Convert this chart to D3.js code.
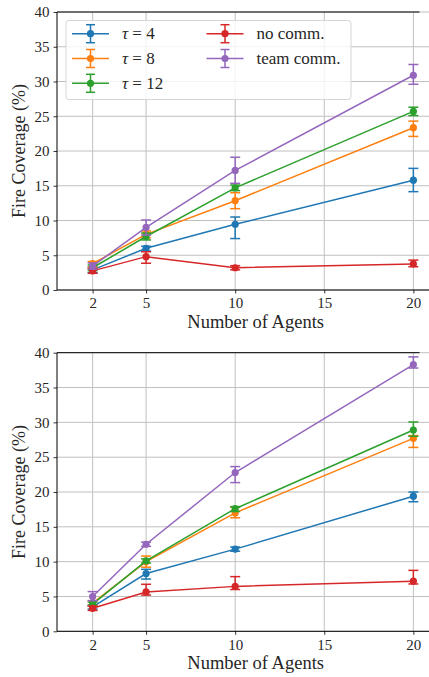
<!DOCTYPE html>
<html>
<head>
<meta charset="utf-8">
<script src="https://cdn.jsdelivr.net/npm/d3@7"></script>
<style>
  html, body { margin: 0; padding: 0; background: #fff; }
</style>
</head>
<body>
<svg id="chart" width="429" height="677"></svg>
<script>
// ---------- data ----------
const agents = [2, 5, 10, 20];
const xTicks = [2, 5, 10, 15, 20];
const yTicks = [0, 5, 10, 15, 20, 25, 30, 35, 40];
const seriesLabels = ["τ = 4", "τ = 8", "τ = 12", "no comm.", "team comm."];
const seriesColors = ["#1f77b4", "#ff7f0e", "#2ca02c", "#d62728", "#9467bd"];

// top panel: mean, lower bound, upper bound
const topTau4     = [2.9, 6.0, 9.45, 15.8];
const topTau4Lo   = [2.5, 5.6, 7.4, 14.15];
const topTau4Hi   = [3.3, 6.3, 10.5, 17.5];
const topTau8     = [3.8, 8.0, 12.85, 23.35];
const topTau8Lo   = [3.3, 7.5, 11.7, 22.1];
const topTau8Hi   = [4.1, 8.5, 14.0, 24.3];
const topTau12    = [3.2, 7.7, 14.7, 25.7];
const topTau12Lo  = [2.8, 7.2, 14.3, 25.1];
const topTau12Hi  = [3.6, 8.2, 15.1, 26.3];
const topNoComm   = [2.75, 4.8, 3.2, 3.75];
const topNoCommLo = [2.4, 3.85, 2.9, 3.35];
const topNoCommHi = [3.1, 5.5, 3.5, 4.3];
const topTeam     = [3.45, 9.0, 17.2, 30.9];
const topTeamLo   = [3.0, 7.9, 15.35, 29.6];
const topTeamHi   = [3.9, 10.07, 19.1, 32.45];

// bottom panel
const botTau4     = [3.5, 8.3, 11.8, 19.4];
const botTau4Lo   = [3.2, 7.5, 11.5, 18.6];
const botTau4Hi   = [3.8, 8.9, 12.1, 20.0];
const botTau8     = [4.05, 10.0, 17.0, 27.7];
const botTau8Lo   = [3.7, 9.2, 16.3, 26.4];
const botTau8Hi   = [4.4, 10.8, 17.8, 28.1];
const botTau12    = [3.9, 10.1, 17.6, 28.9];
const botTau12Lo  = [3.6, 9.8, 17.2, 28.0];
const botTau12Hi  = [4.2, 10.4, 17.9, 30.05];
const botNoComm   = [3.3, 5.65, 6.45, 7.2];
const botNoCommLo = [3.0, 5.2, 6.0, 6.8];
const botNoCommHi = [3.6, 6.75, 7.85, 8.75];
const botTeam     = [5.0, 12.5, 22.8, 38.3];
const botTeamLo   = [4.4, 12.2, 21.35, 37.8];
const botTeamHi   = [5.7, 12.8, 23.65, 39.4];

const topSeries = [
  [topTau4, topTau4Lo, topTau4Hi],
  [topTau8, topTau8Lo, topTau8Hi],
  [topTau12, topTau12Lo, topTau12Hi],
  [topNoComm, topNoCommLo, topNoCommHi],
  [topTeam, topTeamLo, topTeamHi]
];
const botSeries = [
  [botTau4, botTau4Lo, botTau4Hi],
  [botTau8, botTau8Lo, botTau8Hi],
  [botTau12, botTau12Lo, botTau12Hi],
  [botNoComm, botNoCommLo, botNoCommHi],
  [botTeam, botTeamLo, botTeamHi]
];

// ---------- drawing ----------
const FONT = "'Liberation Serif', 'Times New Roman', serif";
const TXT = "#262626";
const svg = d3.select("#chart");
const left = 57, right = 449;
const x = d3.scaleLinear().domain([0, 22]).range([left, right]);

function drawPanel(top, bottom, series, showLegend) {
  const y = d3.scaleLinear().domain([0, 40]).range([bottom, top]);
  const g = svg.append("g");

  // grid
  g.append("g").selectAll("line").data(xTicks).join("line")
    .attr("x1", d => x(d)).attr("x2", d => x(d))
    .attr("y1", top).attr("y2", bottom)
    .attr("stroke", "#c0c0c0").attr("stroke-width", 1);
  g.append("g").selectAll("line").data(yTicks).join("line")
    .attr("x1", left).attr("x2", right)
    .attr("y1", d => y(d)).attr("y2", d => y(d))
    .attr("stroke", "#c0c0c0").attr("stroke-width", 1);

  // axes
  const xAxis = d3.axisBottom(x).tickValues(xTicks).tickSize(3.5).tickPadding(4).tickFormat(d3.format("d"));
  const gx = g.append("g").attr("transform", `translate(0,${bottom})`).call(xAxis);
  const yAxis = d3.axisLeft(y).tickValues(yTicks).tickSize(3.5).tickPadding(4).tickFormat(d3.format("d"));
  const gy = g.append("g").attr("transform", `translate(${left},0)`).call(yAxis);
  [gx, gy].forEach(a => {
    a.attr("font-family", FONT);
    a.select(".domain").remove();
    a.selectAll(".tick line").attr("stroke", "#000").attr("stroke-width", 0.8);
    a.selectAll(".tick text")
      .style("font-family", FONT).style("font-size", "15px").attr("fill", TXT);
  });
  gx.selectAll(".tick text").attr("dy", "0.72em");

  // spines
  g.append("line").attr("x1", left).attr("x2", left).attr("y1", top).attr("y2", bottom)
    .attr("stroke", "#000").attr("stroke-width", 1);
  g.append("line").attr("x1", left).attr("x2", right).attr("y1", bottom).attr("y2", bottom)
    .attr("stroke", "#000").attr("stroke-width", 1);
  g.append("line").attr("x1", left).attr("x2", 419.5).attr("y1", top).attr("y2", top)
    .attr("stroke", "#000").attr("stroke-width", 1);

  // labels
  g.append("text").attr("x", x(11.15)).attr("y", bottom + 38)
    .attr("text-anchor", "middle").attr("fill", TXT)
    .style("font-family", FONT).style("font-size", "18.5px").text("Number of Agents");
  g.append("text")
    .attr("transform", `translate(25,${(top + bottom) / 2}) rotate(-90)`)
    .attr("text-anchor", "middle").attr("fill", TXT)
    .style("font-family", FONT).style("font-size", "18px").text("Fire Coverage (%)");

  // series
  const line = d3.line().x(d => x(d[0])).y(d => y(d[1]));
  series.forEach((s, i) => {
    const [m, lo, hi] = s;
    const col = seriesColors[i];
    const pts = agents.map((a, k) => [a, m[k], lo[k], hi[k]]);
    const sg = g.append("g");
    sg.append("path").datum(pts).attr("d", line)
      .attr("fill", "none").attr("stroke", col).attr("stroke-width", 1.5);
    sg.selectAll(".eb").data(pts).join("line")
      .attr("x1", d => x(d[0])).attr("x2", d => x(d[0]))
      .attr("y1", d => y(d[2])).attr("y2", d => y(d[3]))
      .attr("stroke", col).attr("stroke-width", 1.5);
    sg.selectAll(".capl").data(pts).join("line")
      .attr("x1", d => x(d[0]) - 5).attr("x2", d => x(d[0]) + 5)
      .attr("y1", d => y(d[2])).attr("y2", d => y(d[2]))
      .attr("stroke", col).attr("stroke-width", 1.5);
    sg.selectAll(".caph").data(pts).join("line")
      .attr("x1", d => x(d[0]) - 5).attr("x2", d => x(d[0]) + 5)
      .attr("y1", d => y(d[3])).attr("y2", d => y(d[3]))
      .attr("stroke", col).attr("stroke-width", 1.5);
    sg.selectAll("circle").data(pts).join("circle")
      .attr("cx", d => x(d[0])).attr("cy", d => y(d[1])).attr("r", 3.6)
      .attr("fill", col);
  });

  if (showLegend) {
    const lg = g.append("g");
    lg.append("rect").attr("x", 66).attr("y", 20.5).attr("width", 285).attr("height", 79)
      .attr("rx", 3).attr("fill", "#fff").attr("fill-opacity", 0.8)
      .attr("stroke", "#d6d6d6").attr("stroke-width", 1);
    const pos = [
      [72, 33.7], [72, 58.5], [72, 83.3],
      [206.5, 33.7], [206.5, 58.5]
    ];
    seriesLabels.forEach((lab, i) => {
      const [lx, ly] = pos[i];
      const col = seriesColors[i];
      const cx = lx + 18.5;
      lg.append("line").attr("x1", lx).attr("x2", lx + 37).attr("y1", ly).attr("y2", ly)
        .attr("stroke", col).attr("stroke-width", 1.5);
      lg.append("line").attr("x1", cx).attr("x2", cx).attr("y1", ly - 9).attr("y2", ly + 9)
        .attr("stroke", col).attr("stroke-width", 1.5);
      [ly - 9, ly + 9].forEach(cy => {
        lg.append("line").attr("x1", cx - 4.5).attr("x2", cx + 4.5).attr("y1", cy).attr("y2", cy)
          .attr("stroke", col).attr("stroke-width", 1.5);
      });
      lg.append("circle").attr("cx", cx).attr("cy", ly).attr("r", 3.6).attr("fill", col);
      const t = lg.append("text").attr("x", lx + 50).attr("y", ly + 5.5).attr("fill", TXT)
        .style("font-family", FONT).style("font-size", "17px");
      if (lab.startsWith("τ")) {
        t.append("tspan").style("font-style", "italic").text("τ");
        t.append("tspan").text(lab.slice(1));
      } else {
        t.text(lab);
      }
    });
  }
}

drawPanel(12, 290, topSeries, true);
drawPanel(352.7, 631.3, botSeries, false);
</script>
</body>
</html>
